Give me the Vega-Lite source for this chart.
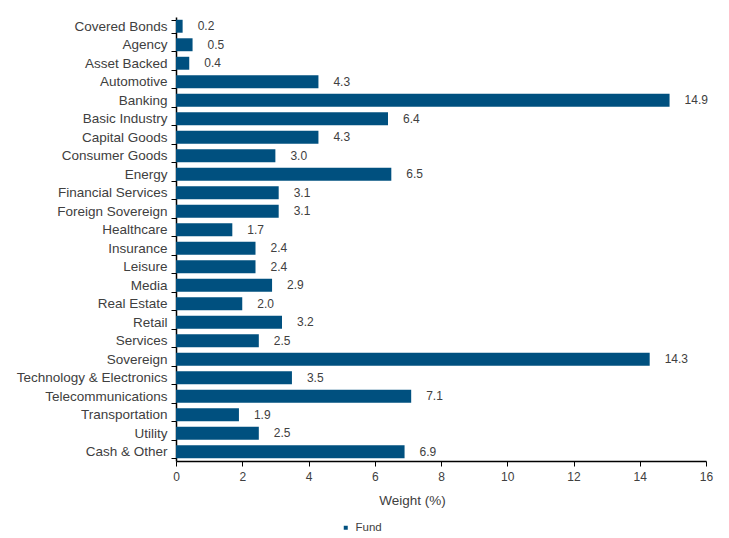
{
  "$schema": "https://vega.github.io/schema/vega-lite/v6.json",
  "width": 530,
  "height": 444,
  "autosize": {"type": "none"},
  "padding": {"left": 176, "top": 17, "right": 23, "bottom": 77},
  "background": "white",
  "config": {
    "view": {"stroke": null},
    "font": "Liberation Sans",
    "axis": {"labelFont": "Liberation Sans", "titleFont": "Liberation Sans", "labelColor": "#404040", "titleColor": "#404040", "labelFontSize": 12, "titleFontSize": 13.5, "titleFontWeight": "normal", "domainColor": "#000000", "tickColor": "#000000", "grid": false}
  },
  "data": {
    "values": [
      {"sector": "Covered Bonds", "series": "Fund", "weight": 0.2},
      {"sector": "Agency", "series": "Fund", "weight": 0.5},
      {"sector": "Asset Backed", "series": "Fund", "weight": 0.4},
      {"sector": "Automotive", "series": "Fund", "weight": 4.3},
      {"sector": "Banking", "series": "Fund", "weight": 14.9},
      {"sector": "Basic Industry", "series": "Fund", "weight": 6.4},
      {"sector": "Capital Goods", "series": "Fund", "weight": 4.3},
      {"sector": "Consumer Goods", "series": "Fund", "weight": 3.0},
      {"sector": "Energy", "series": "Fund", "weight": 6.5},
      {"sector": "Financial Services", "series": "Fund", "weight": 3.1},
      {"sector": "Foreign Sovereign", "series": "Fund", "weight": 3.1},
      {"sector": "Healthcare", "series": "Fund", "weight": 1.7},
      {"sector": "Insurance", "series": "Fund", "weight": 2.4},
      {"sector": "Leisure", "series": "Fund", "weight": 2.4},
      {"sector": "Media", "series": "Fund", "weight": 2.9},
      {"sector": "Real Estate", "series": "Fund", "weight": 2.0},
      {"sector": "Retail", "series": "Fund", "weight": 3.2},
      {"sector": "Services", "series": "Fund", "weight": 2.5},
      {"sector": "Sovereign", "series": "Fund", "weight": 14.3},
      {"sector": "Technology & Electronics", "series": "Fund", "weight": 3.5},
      {"sector": "Telecommunications", "series": "Fund", "weight": 7.1},
      {"sector": "Transportation", "series": "Fund", "weight": 1.9},
      {"sector": "Utility", "series": "Fund", "weight": 2.5},
      {"sector": "Cash & Other", "series": "Fund", "weight": 6.9}
    ]
  },
  "encoding": {
    "y": {
      "field": "sector", "type": "nominal", "sort": null,
      "scale": {"paddingInner": 0.3, "paddingOuter": 0.15},
      "axis": {"title": null, "tickBand": "extent", "tickSize": 5, "labelPadding": 4, "domainWidth": 1.5, "labelFontSize": 13.5}
    },
    "x": {
      "field": "weight", "type": "quantitative",
      "scale": {"domain": [0, 16], "nice": false},
      "axis": {"title": "Weight (%)", "values": [0, 2, 4, 6, 8, 10, 12, 14, 16], "format": "d", "labelFlush": false, "tickSize": 5, "labelPadding": 5, "titlePadding": 11, "domainWidth": 1.5, "titleX": 236}
    }
  },
  "layer": [
    {
      "mark": {"type": "bar"},
      "encoding": {
        "color": {
          "field": "series", "type": "nominal",
          "scale": {"range": ["#00507F"]},
          "legend": {"title": null, "orient": "none", "legendX": 164, "legendY": 505, "symbolType": "square", "symbolSize": 16, "labelFontSize": 11.5, "labelColor": "#404040", "labelFont": "Liberation Sans", "labelOffset": 4}
        }
      }
    },
    {
      "mark": {"type": "text", "align": "left", "dx": 15, "fontSize": 12, "color": "#404040", "font": "Liberation Sans"},
      "encoding": {
        "text": {"field": "weight", "type": "quantitative", "format": ".1f"}
      }
    }
  ]
}
